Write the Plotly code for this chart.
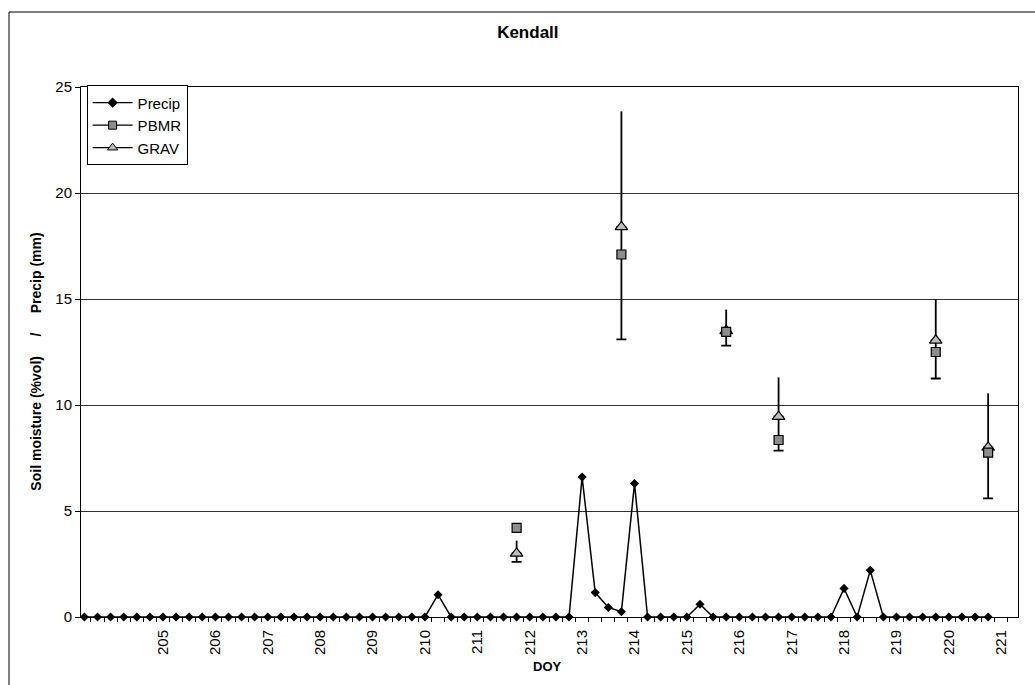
import plotly.graph_objects as go

# ---------------- data ----------------
doy = [203.5, 203.75, 204.0, 204.25, 204.5, 204.75,
       205.0, 205.25, 205.5, 205.75, 206.0, 206.25, 206.5, 206.75,
       207.0, 207.25, 207.5, 207.75, 208.0, 208.25, 208.5, 208.75,
       209.0, 209.25, 209.5, 209.75, 210.0, 210.25, 210.5, 210.75,
       211.0, 211.25, 211.5, 211.75, 212.0, 212.25, 212.5, 212.75,
       213.0, 213.25, 213.5, 213.75, 214.0, 214.25, 214.5, 214.75,
       215.0, 215.25, 215.5, 215.75, 216.0, 216.25, 216.5, 216.75,
       217.0, 217.25, 217.5, 217.75, 218.0, 218.25, 218.5, 218.75,
       219.0, 219.25, 219.5, 219.75, 220.0, 220.25, 220.5, 220.75]
precip = [0, 0, 0, 0, 0, 0,
          0, 0, 0, 0, 0, 0, 0, 0,
          0, 0, 0, 0, 0, 0, 0, 0,
          0, 0, 0, 0, 0, 1.05, 0, 0,
          0, 0, 0, 0, 0, 0, 0, 0,
          6.6, 1.15, 0.45, 0.25, 6.3, 0, 0, 0,
          0, 0.6, 0, 0, 0, 0, 0, 0,
          0, 0, 0, 0, 1.35, 0, 2.2, 0,
          0, 0, 0, 0, 0, 0, 0, 0]

sample_doy = [211.75, 213.75, 215.75, 216.75, 219.75, 220.75]
pbmr = [4.2, 17.1, 13.45, 8.35, 12.5, 7.75]
grav = [3.0, 18.4, 13.5, 9.45, 13.05, 8.0]
grav_err_plus = [0.6, 5.45, 1.0, 1.85, 1.95, 2.55]
grav_err_minus = [0.4, 5.3, 0.7, 1.6, 1.8, 2.4]

x_ticks = [205, 206, 207, 208, 209, 210, 211, 212, 213, 214, 215, 216, 217, 218, 219, 220, 221]
y_ticks = [0, 5, 10, 15, 20, 25]

FONT = "Liberation Sans, Arial, sans-serif"

fig = go.Figure()

# legend-only entries (line + marker in legend)
fig.add_trace(go.Scatter(x=[None], y=[None], mode="lines+markers", name="Precip",
                         line=dict(color="black", width=1.2),
                         marker=dict(symbol="diamond", size=8, color="black")))
fig.add_trace(go.Scatter(x=[None], y=[None], mode="lines+markers", name="PBMR",
                         line=dict(color="black", width=1.2),
                         marker=dict(symbol="square", size=8, color="#8c8c8c",
                                     line=dict(color="black", width=1))))
fig.add_trace(go.Scatter(x=[None], y=[None], mode="lines+markers", name="GRAV",
                         line=dict(color="black", width=1.2),
                         marker=dict(symbol="triangle-up", size=9, color="#bdbdbd",
                                     line=dict(color="black", width=1))))

# precip line
fig.add_trace(go.Scatter(x=doy, y=precip, mode="lines+markers", showlegend=False,
                         line=dict(color="black", width=1.5),
                         marker=dict(symbol="diamond", size=7, color="black"),
                         cliponaxis=False))

# upper error bars (no cap)
fig.add_trace(go.Scatter(x=sample_doy, y=grav, mode="markers", showlegend=False,
                         marker=dict(size=1, opacity=0),
                         error_y=dict(type="data", symmetric=False,
                                      array=grav_err_plus,
                                      arrayminus=[0] * len(grav),
                                      color="black", thickness=1.8, width=0)))
# lower error bars (with cap)
fig.add_trace(go.Scatter(x=sample_doy, y=grav, mode="markers", showlegend=False,
                         marker=dict(size=1, opacity=0),
                         error_y=dict(type="data", symmetric=False,
                                      array=[0] * len(grav),
                                      arrayminus=grav_err_minus,
                                      color="black", thickness=1.8, width=5)))

fig.add_trace(go.Scatter(x=sample_doy, y=grav, mode="markers", showlegend=False,
                         marker=dict(symbol="triangle-up", size=11, color="#bdbdbd",
                                     line=dict(color="black", width=1.2))))
fig.add_trace(go.Scatter(x=sample_doy, y=pbmr, mode="markers", showlegend=False,
                         marker=dict(symbol="square", size=9, color="#8c8c8c",
                                     line=dict(color="black", width=1.2))))

fig.update_layout(
    width=1035, height=685,
    template="none",
    margin=dict(l=81, r=17, t=87, b=68),
    paper_bgcolor="white", plot_bgcolor="white",
    font=dict(family=FONT, size=14, color="black"),
    title=dict(text="<b>Kendall</b>", x=0.51, xanchor="center",
               y=0.953, yanchor="middle", yref="container",
               font=dict(size=17, family=FONT, color="black")),
    legend=dict(x=0.006, y=1.003, xanchor="left", yanchor="top",
                bgcolor="white", bordercolor="black", borderwidth=1,
                font=dict(size=15, family=FONT, color="black"), itemwidth=40,
                tracegroupgap=0),
    xaxis=dict(range=[203.435, 221.32], tickmode="array", tickvals=x_ticks,
               ticktext=[str(v) for v in x_ticks], tickangle=-90,
               ticks="", showgrid=False, zeroline=False,
               showline=True, linecolor="black", linewidth=1, mirror=True,
               tickfont=dict(size=15, color="black", family=FONT),
               ticklabelstandoff=6,
               minor=dict(tickmode="linear", tick0=203.375, dtick=0.25,
                          ticks="outside", ticklen=4, tickcolor="black",
                          showgrid=False)),
    yaxis=dict(range=[0, 25], tickmode="array", tickvals=y_ticks,
               ticks="outside", ticklen=5, tickcolor="black",
               showgrid=True, gridcolor="#333333", gridwidth=1,
               zeroline=False, showline=True, linecolor="black",
               linewidth=1, mirror=True,
               tickfont=dict(size=15, color="black", family=FONT)),
    showlegend=True,
)

# axis titles as annotations
fig.add_annotation(text="<b>Soil moisture (%vol)\u00a0\u00a0\u00a0\u00a0\u00a0/\u00a0\u00a0\u00a0\u00a0\u00a0Precip (mm)</b>",
                   xref="paper", yref="paper", x=-0.049, y=0.482,
                   textangle=-90, showarrow=False,
                   font=dict(size=14, family=FONT, color="black"),
                   xanchor="center", yanchor="middle")
fig.add_annotation(text="<b>DOY</b>", xref="paper", yref="paper",
                   x=0.498, y=-0.094, showarrow=False,
                   font=dict(size=13, family=FONT, color="black"),
                   xanchor="center", yanchor="middle")

# outer chart border (left and top)
fig.add_shape(type="line", xref="paper", yref="paper",
              x0=(9 - 81) / 937, x1=(9 - 81) / 937,
              y0=(617 - 12) / 530, y1=(617 - 685) / 530,
              line=dict(color="black", width=1))
fig.add_shape(type="line", xref="paper", yref="paper",
              x0=(9 - 81) / 937, x1=(1035 - 81) / 937,
              y0=(617 - 12) / 530, y1=(617 - 12) / 530,
              line=dict(color="black", width=1))

fig.write_html("out.html")
